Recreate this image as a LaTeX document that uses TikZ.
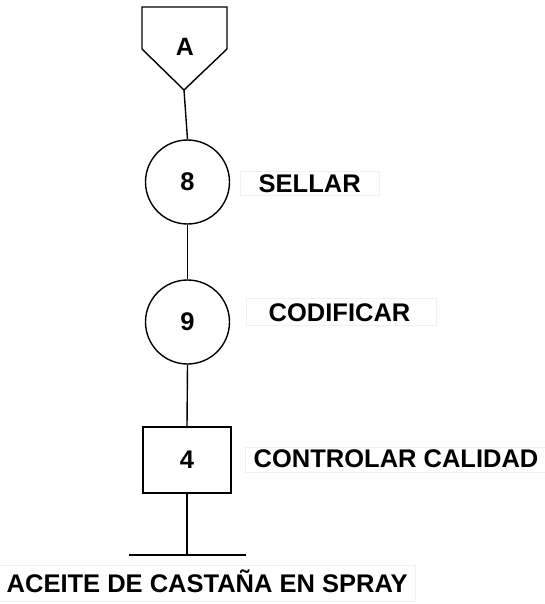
\documentclass[tikz,border=0pt]{standalone}
\usepackage{fontspec}
\setmainfont{Liberation Sans}
\begin{document}
\begin{tikzpicture}[x=1pt,y=-1pt,
  line width=1.4pt,
  txt/.style={font=\fontsize{25.5}{30}\selectfont\bfseries, inner sep=0pt},
  opcircle/.style={draw, circle, minimum size=84pt, inner sep=0pt, txt},
  opbox/.style={draw, rectangle, minimum width=88pt, minimum height=66pt, inner sep=0pt, txt},
  labelframe/.style={draw=black!6, line width=0.6pt}]
\useasboundingbox (0,0) rectangle (544,604);

% off-page connector
\draw (142,7) -- (227,7) -- (227,49) -- (184,90) -- (142,49) -- cycle;
\coordinate (tipA) at (184,90);
\node[txt, font=\fontsize{25}{30}\selectfont\bfseries] (A) at (185,47) {A};

% operations and inspection
\node[opcircle] (op8) at (187.5,182) {8};
\node[opcircle] (op9) at (187.5,322) {9};
\node[opbox] (ins4) at (187,460) {4};

% connectors
\draw (tipA) -- (op8.north);
\draw (op8.south) -- (op9.north);
\draw (op9.south) -- (ins4.north);
\coordinate (endpt) at (187,555);
\coordinate (barL) at (129,555);
\coordinate (barR) at (246,555);
\draw (ins4.south) -- (endpt);
\draw (barL) -- (barR);

% labels with their light frames
\draw[labelframe] (240,171) rectangle (379,195);
\node[txt, anchor=west] (l8) at (258,184) {SELLAR};
\draw[labelframe] (246,298) rectangle (436,325);
\node[txt, anchor=west] (l9) at (268,313) {CODIFICAR};
\draw[labelframe] (245,447) rectangle (546,472);
\node[txt, anchor=west] (l4) at (253,459) {CONTROLAR CALIDAD};
\draw[labelframe] (-2,565) rectangle (415,601);
\node[txt, anchor=west] (lend) at (6,581) {ACEITE DE CASTAÑA EN SPRAY};
\end{tikzpicture}
\end{document}
